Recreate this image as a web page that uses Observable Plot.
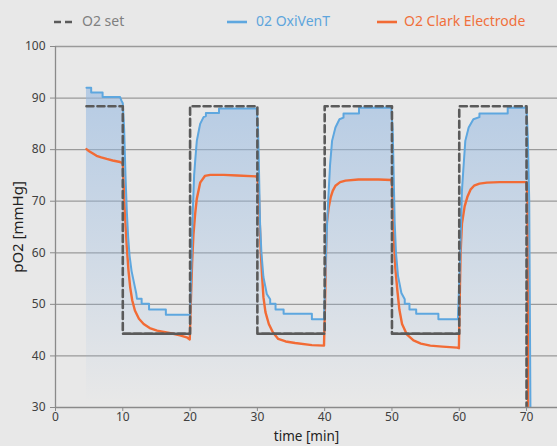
<!DOCTYPE html>
<html><head><meta charset="utf-8">
<script src="https://cdn.jsdelivr.net/npm/d3@7"></script>
<script src="https://cdn.jsdelivr.net/npm/@observablehq/plot@0.6"></script>
<style>
body{margin:0;background:#e8e8e8;width:557px;height:446px;overflow:hidden;font-family:"Noto Sans",sans-serif;}
#legend{position:relative;height:40px;}
.item{position:absolute;top:11px;font-size:14px;line-height:20px;white-space:nowrap;}
.item svg{position:absolute;top:9px;}
.item span{position:absolute;top:0;}
</style></head><body>
<div id="legend"></div><div id="chart"></div>
<script>
// ---- data ----
const xTicks = [0, 10, 20, 30, 40, 50, 60, 70];
const yTicks = [30, 40, 50, 60, 70, 80, 90, 100];
const seriesNames = ["O2 set", "02 OxiVenT", "O2 Clark Electrode"];

const setT = [4.6, 10, 10, 20, 20, 30, 30, 40, 40, 50, 50, 60, 60, 70, 70];
const setV = [88.4, 88.4, 44.3, 44.3, 88.4, 88.4, 44.3, 44.3, 88.4, 88.4, 44.3, 44.3, 88.4, 88.4, 25];

const blueT = [4.6, 5.3, 5.3, 7.0, 7.0, 9.6, 9.8, 10.0, 10.2, 10.4, 10.6, 10.8, 11.0, 11.3, 11.6, 12.0, 12.1, 12.8, 12.8, 13.9, 13.9, 16.4, 16.4, 20.0,
  20.2, 20.4, 20.6, 20.8, 21.0, 21.3, 21.5, 22.0, 22.35, 22.35, 24.3, 24.3, 29.9,
  30.1, 30.2, 30.4, 30.6, 30.9, 31.4, 31.9, 31.9, 32.7, 32.7, 33.9, 33.9, 38.1, 38.1, 39.9,
  40.2, 40.4, 40.6, 40.8, 41.1, 41.6, 42.2, 42.8, 42.8, 45.1, 45.1, 49.9,
  50.1, 50.2, 50.4, 50.6, 50.9, 51.4, 51.9, 51.9, 52.6, 52.6, 53.6, 53.6, 56.9, 56.9, 59.8,
  60.1, 60.4, 60.6, 60.9, 61.4, 62.1, 63.0, 63.0, 67.2, 67.2, 70.0, 70.2, 70.4, 70.6];
const blueV = [92.0, 92.0, 91.1, 91.1, 90.2, 90.2, 89.5, 89.0, 84, 75, 68, 63, 59.5, 56.5, 54.6, 52.1, 51.1, 51.1, 50.1, 50.1, 49.0, 49.0, 48.0, 48.0,
  58, 68, 75, 78.5, 81.7, 83.7, 85.0, 86.3, 86.5, 87.1, 87.1, 88.0, 88.0,
  84, 78.5, 65.6, 60, 55.3, 52.0, 51.0, 50.1, 50.1, 49.0, 49.0, 48.2, 48.2, 47.1, 47.1,
  60, 67, 72, 77, 81.7, 84.3, 85.9, 86.2, 87.0, 87.0, 88.1, 88.1,
  84, 78.5, 66, 60, 55.5, 52.2, 51.0, 50.1, 50.1, 49.0, 49.0, 48.2, 48.2, 47.1, 47.1,
  58, 72, 76, 81.7, 84.3, 85.9, 86.3, 87.0, 87.0, 88.1, 88.1, 82, 70, 25];

const orangeT = [4.6, 5.0, 5.5, 6.1, 6.8, 7.6, 8.5, 9.6, 10.0,
  10.1, 10.3, 10.6, 10.85, 11.1, 11.4, 11.8, 12.4, 13.1, 14.0, 15.1, 16.3, 17.5, 18.5, 19.5, 19.95,
  20.1, 20.3, 20.5, 20.75, 21.0, 21.5, 22.2, 23.0, 25.0, 27.0, 29.9,
  30.05, 30.2, 30.35, 30.5, 30.7, 30.9, 31.2, 31.7, 32.3, 33.1, 34.2, 35.6, 38.1, 39.9,
  40.05, 40.2, 40.3, 40.6, 40.9, 41.2, 41.6, 42.3, 43.1, 45.0, 48.0, 49.9,
  50.05, 50.15, 50.3, 50.5, 50.8, 51.1, 51.5, 52.2, 53.2, 54.3, 55.7, 57.5, 59.7, 59.95,
  60.05, 60.2, 60.4, 60.8, 61.2, 61.7, 62.2, 63.0, 64.1, 66.0, 70.0,
  70.15, 70.25];
const orangeV = [80.1, 79.7, 79.3, 78.8, 78.5, 78.2, 77.9, 77.6, 77.4,
  74, 68, 61, 56.5, 53.3, 50.8, 48.8, 47.2, 46.2, 45.4, 44.9, 44.6, 44.3, 44.0, 43.6, 43.2,
  50, 58, 63.5, 67.5, 70.5, 73.6, 74.9, 75.1, 75.1, 75.0, 74.8,
  74, 72, 66, 60.4, 55.5, 51.4, 48.5, 46.2, 44.6, 43.3, 42.8, 42.5, 42.1, 42.0,
  50, 60, 65.6, 68.8, 70.8, 72.0, 73.0, 73.7, 74.0, 74.2, 74.2, 74.1,
  73, 68, 62.4, 57, 52.7, 49, 46.2, 44.2, 43.0, 42.4, 42.0, 41.8, 41.6, 41.5,
  50, 60, 65.6, 69, 70.8, 72.3, 73.0, 73.4, 73.6, 73.7, 73.7,
  70, 25];

const colors = ["#5a5a5a", "#5ea7df", "#f26b35"];
const legendColors = ["#808080", "#5ea5dc", "#f0703c"];

// ---- tables ----
const setData = setT.map((t, i) => ({t, v: setV[i]}));
const blueData = blueT.map((t, i) => ({t, v: blueV[i]}));
const orangeData = orangeT.map((t, i) => ({t, v: orangeV[i]}));
const yMin = yTicks[0], yMax = yTicks[yTicks.length - 1];
const lowSegs = [];
for (let i = 1; i < setData.length; i++) {
  if (setData[i].v === setData[i - 1].v && setData[i].v < 60) lowSegs.push({t1: setData[i - 1].t, t2: setData[i].t, v: setData[i].v});
}

// ---- legend ----
const legend = document.getElementById("legend");
const legendPos = [[54, 82], [227, 256], [377, 404]];
seriesNames.forEach((name, i) => {
  const d = document.createElement("div");
  d.className = "item";
  d.style.left = legendPos[i][0] + "px";
  const dash = i === 0 ? 'stroke-dasharray="7,4"' : '';
  d.innerHTML = `<svg width="22" height="4" style="left:0"><line x1="0" x2="20" y1="2" y2="2" stroke="${colors[i]}" stroke-width="2.6" ${dash}/></svg>` +
    `<span style="left:${legendPos[i][1] - legendPos[i][0]}px;color:${legendColors[i]}">${name}</span>`;
  legend.appendChild(d);
});

// ---- chart ----
const chart = Plot.plot({
  width: 557, height: 406,
  marginLeft: 55, marginRight: 0, marginTop: 6, marginBottom: 39,
  style: {background: "transparent", fontFamily: "Noto Sans", fontSize: "12px", color: "#404040", overflow: "visible"},
  x: {domain: [0, 74.6]},
  y: {domain: [yMin, yMax]},
  marks: [
    Plot.ruleY(yTicks.slice(1), {stroke: "#9a9a9a", strokeWidth: 1.3}),
    Plot.areaY(blueData, {x: "t", y1: yMin, y2: "v", fill: "url(#blueFade)", clip: true}),
    Plot.line(orangeData, {x: "t", y: "v", stroke: colors[2], strokeWidth: 2.4, clip: true}),
    Plot.line(blueData, {x: "t", y: "v", stroke: colors[1], strokeWidth: 2, clip: true}),
    Plot.line(setData, {x: "t", y: "v", stroke: colors[0], strokeWidth: 2.6, strokeDasharray: "7,4", clip: true}),
    Plot.link(lowSegs, {x1: "t1", x2: "t2", y1: "v", y2: "v", stroke: colors[0], strokeWidth: 2.6}),
    Plot.ruleX([0], {y1: yMin, y2: yMax, stroke: "#8a8a8a", strokeWidth: 1.3}),
    Plot.ruleY([yMin], {stroke: "#8a8a8a", strokeWidth: 1.3}),
    Plot.axisX({ticks: xTicks, tickSize: 4, tickPadding: 1, label: null, stroke: "#8a8a8a", fill: "#404040"}),
    Plot.axisY({ticks: yTicks, tickSize: 5, tickPadding: 5, label: null, stroke: "#8a8a8a", fill: "#404040"}),
    Plot.text(["time [min]"], {frameAnchor: "bottom", lineAnchor: "top", dy: 24, fontSize: 13.5, fill: "#222"}),
    Plot.text(["pO2 [mmHg]"], {frameAnchor: "left", textAnchor: "middle", lineAnchor: "middle", rotate: -90, dx: -37, fontSize: 15, fill: "#222"})
  ]
});

const yScale = chart.scale("y");
const defs = d3.select(chart).insert("defs", ":first-child");
const g = defs.append("linearGradient").attr("id", "blueFade")
  .attr("gradientUnits", "userSpaceOnUse")
  .attr("x1", 0).attr("x2", 0)
  .attr("y1", yScale.apply(92)).attr("y2", yScale.apply(31));
g.append("stop").attr("offset", 0).attr("stop-color", "#96b9e1").attr("stop-opacity", 0.62);
g.append("stop").attr("offset", 0.45).attr("stop-color", "#96b9e1").attr("stop-opacity", 0.35);
g.append("stop").attr("offset", 1).attr("stop-color", "#96b9e1").attr("stop-opacity", 0);
document.getElementById("chart").appendChild(chart);
</script>
</body></html>
